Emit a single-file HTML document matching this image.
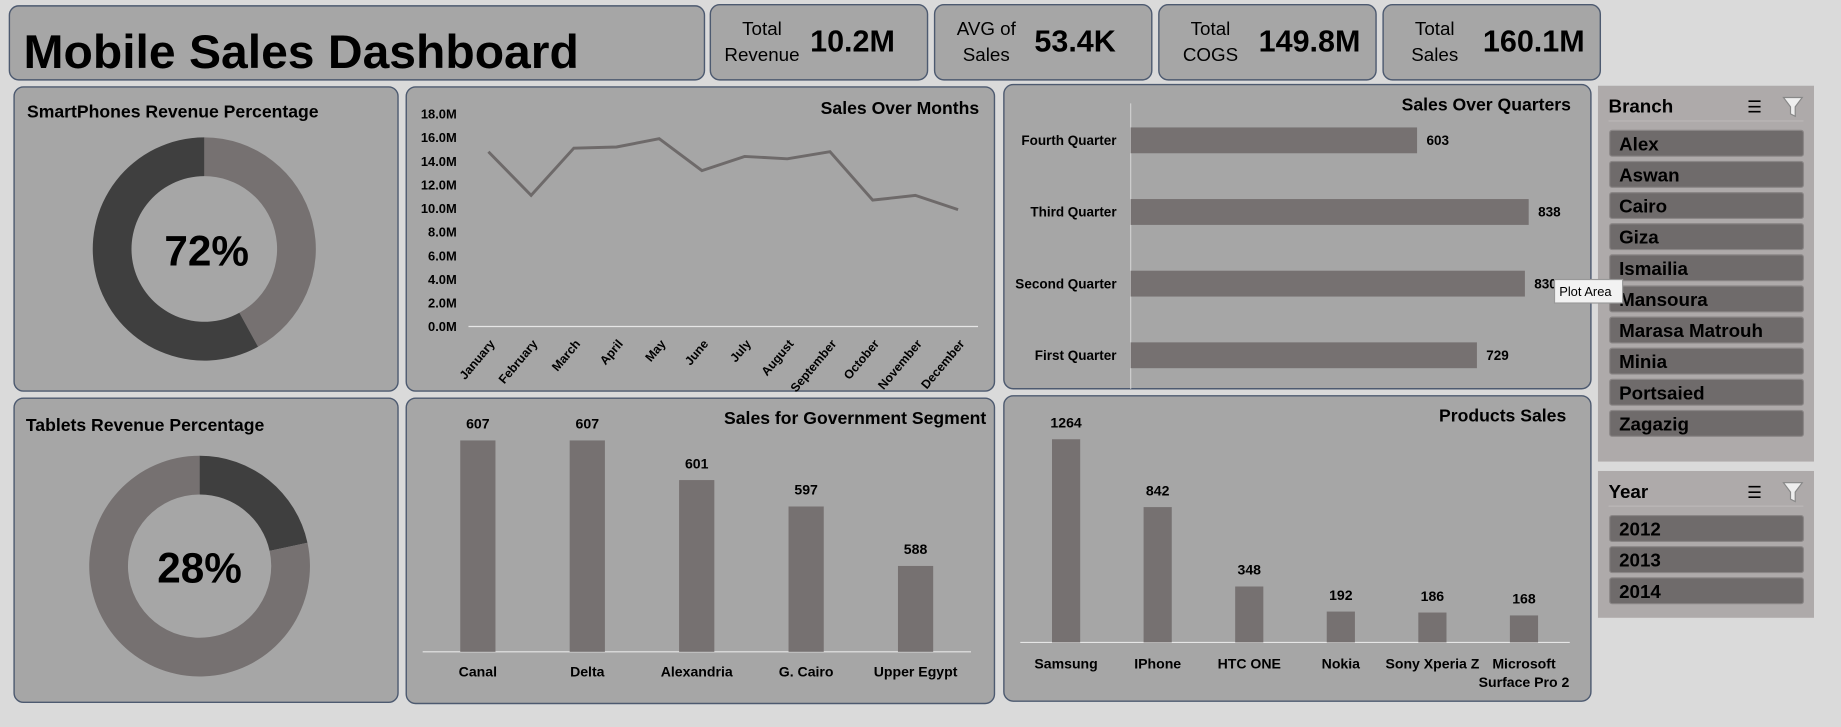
<!DOCTYPE html>
<html><head><meta charset="utf-8"><style>
html,body{margin:0;padding:0;background:#dadada;overflow:hidden}
svg{display:block}
text{font-family:"Liberation Sans",sans-serif;fill:#000}
</style></head><body>
<svg id="s" width="1841" height="727" viewBox="0 0 1568 619" preserveAspectRatio="none" xmlns="http://www.w3.org/2000/svg">
<rect x="0" y="0" width="1568" height="619" fill="#dadada"/>
<g id="panels"></g>
<g id="content"></g>
</svg>
<script>
const months=["January","February","March","April","May","June","July","August","September","October","November","December"];
const monthSales=[14.8,11.1,15.1,15.2,15.9,13.2,14.4,14.2,14.8,10.7,11.1,9.9];
const monthTicks=[0,2,4,6,8,10,12,14,16,18];
const quarters=["Fourth Quarter","Third Quarter","Second Quarter","First Quarter"];
const quarterSales=[603,838,830,729];
const govRegions=["Canal","Delta","Alexandria","G. Cairo","Upper Egypt"];
const govSales=[607,607,601,597,588];
const products=["Samsung","IPhone","HTC ONE","Nokia","Sony Xperia Z","Microsoft|Surface Pro 2"];
const productSales=[1264,842,348,192,186,168];
const smartPct=[72,28];
const tabletPct=[28,72];
const branches=["Alex","Aswan","Cairo","Giza","Ismailia","Mansoura","Marasa Matrouh","Minia","Portsaied","Zagazig"];
const years=["2012","2013","2014"];
const kpiLabels=[["Total","Revenue"],["AVG of","Sales"],["Total","COGS"],["Total","Sales"]];
const kpiValues=["10.2M","53.4K","149.8M","160.1M"];

const NS="http://www.w3.org/2000/svg";
const P=document.getElementById('panels'),C=document.getElementById('content');
function el(tag,attrs,parent,txt){const e=document.createElementNS(NS,tag);for(const k in attrs)e.setAttribute(k,attrs[k]);if(txt!==undefined)e.textContent=txt;(parent||C).appendChild(e);return e;}
function panel(x,y,w,h,name){const r=el('rect',{x:x,y:y,width:w,height:h,rx:8,fill:'#a6a6a6',stroke:'#4d5a70','stroke-width':1.2},P);

return r;}
function txt(x,y,s,size,opts){const t=el('text',Object.assign({x:x,y:y,'font-size':size,'font-weight':'bold'},opts||{}),C,s);return t;}

panel(8,5,592,63,'title-box');
let t=txt(20,58,'Mobile Sales Dashboard',40,{'textLength':473,'lengthAdjust':'spacingAndGlyphs'});


const kx=[605,796,987,1178];
kpiLabels.forEach((l,i)=>{const x=kx[i];
 const r=panel(x,4,185,64,'kpi-card');
 
 const a=txt(x+44,30,l[0],16,{'text-anchor':'middle','font-weight':'normal'});
 const b=txt(x+44,52,l[1],16,{'text-anchor':'middle','font-weight':'normal'});
 const v=txt(x+85,44,kpiValues[i],26,{'font-weight':'bold'});
});

function donut(cx,cy,ro,ri,startDark,pcts,name){
 const cols=startDark?['#3f3f3f','#767171']:['#767171','#3f3f3f'];
 let a0=0;pcts.forEach((p,i)=>{const a1=a0+p/100*2*Math.PI;
  const pt=(r,a)=>[cx+r*Math.sin(a),cy-r*Math.cos(a)];
  const [x1,y1]=pt(ro,a0),[x2,y2]=pt(ro,a1),[x3,y3]=pt(ri,a1),[x4,y4]=pt(ri,a0);const lg=(a1-a0)>Math.PI?1:0;
  const p2=el('path',{d:`M${x1} ${y1}A${ro} ${ro} 0 ${lg} 1 ${x2} ${y2}L${x3} ${y3}A${ri} ${ri} 0 ${lg} 0 ${x4} ${y4}Z`,fill:cols[i]});
  
  
  a0=a1;});
}
panel(12,74,327,259,'smartphones-panel');
const st=txt(23,100,'SmartPhones Revenue Percentage',15);
donut(174,212,95,62,false,[42,58],'smartphones-donut');
const sp=txt(176,226,smartPct[0]+'%',36,{'text-anchor':'middle'});

panel(12,339,327,259,'tablets-panel');
const tt=txt(22,367,'Tablets Revenue Percentage',15);
donut(170,482,94,61,true,[21.6,78.4],'tablets-donut');
const tp=txt(170,496,tabletPct[0]+'%',36,{'text-anchor':'middle'});

panel(346,74,501,259,'sales-months-panel');
const mt=txt(834,97,'Sales Over Months',15,{'text-anchor':'end'});
const my=v=>278-(v/18)*(278-97);
const mx=i=>416+i*(816-416)/11;
monthTicks.forEach(v=>{const k=txt(389,my(v)+4,v.toFixed(1)+'M',11,{'text-anchor':'end'});});
const ax=el('line',{x1:399,y1:278,x2:833,y2:278,stroke:'#e6e6e6','stroke-width':1});
const ln=el('polyline',{points:monthSales.map((v,i)=>mx(i)+','+my(v)).join(' '),fill:'none',stroke:'#6e6a6a','stroke-width':2.5});


months.forEach((m,i)=>{const k=txt(mx(i)+6,293,m,10.5,{'text-anchor':'end',transform:`rotate(-50 ${mx(i)+6} 293)`});});

panel(855,72,500,259,'sales-quarters-panel');
const qt=txt(1338,94,'Sales Over Quarters',15,{'text-anchor':'end'});
const q0=963,qs=339/838;
el('line',{x1:q0,y1:88,x2:q0,y2:331,stroke:'#d0d0d0','stroke-width':1});
quarters.forEach((q,i)=>{const cy=119.5+i*61;const w=quarterSales[i]*qs;
 const b=el('rect',{x:q0,y:cy-11,width:w,height:22,fill:'#767171'});
 
 
 const l=txt(951,cy+4,q,11.5,{'text-anchor':'end'});
 const v=txt(q0+w+8,cy+4,quarterSales[i],11.5);
});

panel(346,339,501,260,'government-panel');
const gt=txt(840,361,'Sales for Government Segment',15,{'text-anchor':'end'});
const gBase=555,gMin=575,gS=180/(607-575);
el('line',{x1:360,y1:gBase,x2:827,y2:gBase,stroke:'#e6e6e6','stroke-width':1});
govRegions.forEach((r,i)=>{const cx=407+i*93.2;const h=(govSales[i]-gMin)*gS;
 const b=el('rect',{x:cx-15,y:gBase-h,width:30,height:h,fill:'#767171'});
 
 
 const v=txt(cx,gBase-h-10,govSales[i],12,{'text-anchor':'middle'});
 const l=txt(cx,576,r,12,{'text-anchor':'middle'});
});

panel(855,337,500,260,'products-panel');
const pt=txt(1334,359,'Products Sales',15,{'text-anchor':'end'});
const pBase=547,pS=173/1264;
el('line',{x1:869,y1:pBase,x2:1337,y2:pBase,stroke:'#e6e6e6','stroke-width':1});
products.forEach((p,i)=>{const cx=908+i*78;const h=productSales[i]*pS;
 const b=el('rect',{x:cx-12,y:pBase-h,width:24,height:h,fill:'#767171'});
 
 
 const v=txt(cx,pBase-h-10,productSales[i],12,{'text-anchor':'middle'});
 p.split('|').forEach((s,j)=>{const l=txt(cx,569+j*16,s,12,{'text-anchor':'middle'});});
});

function slicer(y,h,title,items,name){
 const r=el('rect',{x:1361,y:y,width:184,height:h,fill:'#aeaaaa'},P);
 
 
 const t=txt(1370,y+23,title,16);
 const ic=txt(1488,y+23,'☰',14,{'font-weight':'normal',fill:'#333'});
 const f=el('path',{d:`M${1519} ${y+10}h16l-6 8v8l-4-2v-6z`,fill:'#eee',stroke:'#888'});
 el('line',{x1:1370,y1:y+30,x2:1536,y2:y+30,stroke:'#bcb8b8'});
 items.forEach((it,i)=>{const iy=y+38+i*26.5;
  const b=el('rect',{x:1371,y:iy,width:165,height:22,rx:2,fill:'#6f6b6b',stroke:'#8a8686'});
  
  
  const l=txt(1379,iy+17,it,16);
 });
}
slicer(73,320,'Branch',branches,'branch');
slicer(401,125,'Year',years,'year');

const tip=el('rect',{x:1324,y:238,width:58,height:20,fill:'#f2f2f2',stroke:'#999'});


const tl=txt(1328,252,'Plot Area',11,{'font-weight':'normal',fill:'#666'});
</script>
</body></html>
